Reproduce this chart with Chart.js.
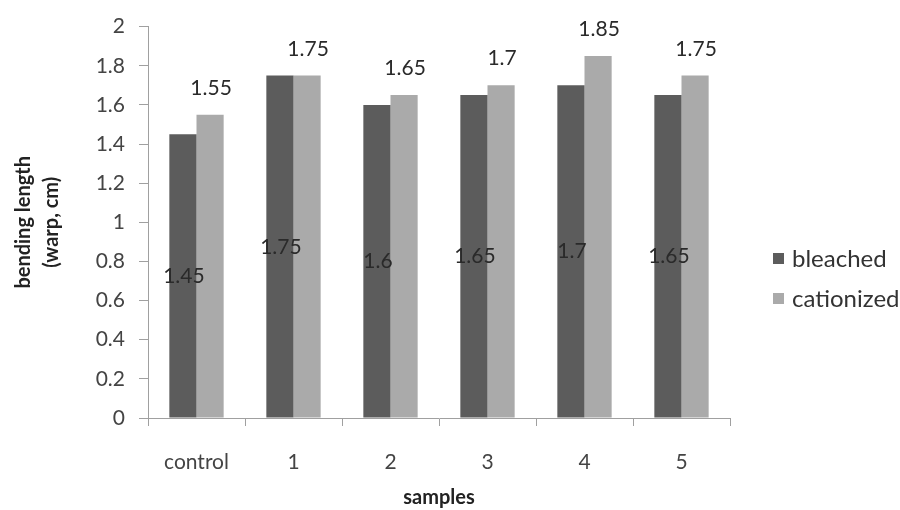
<!DOCTYPE html>
<html>
<head>
<meta charset="utf-8">
<script src="https://cdn.jsdelivr.net/npm/chart.js@4"></script>
<style>
  html, body { margin: 0; padding: 0; background: #fff; }
  #wrap { width: 900px; height: 510px; }
</style>
</head>
<body>
<div id="wrap"><canvas id="c" width="900" height="510"></canvas></div>
<script>
const categories = ['control', '1', '2', '3', '4', '5'];
const bleached = [1.45, 1.75, 1.6, 1.65, 1.7, 1.65];
const cationized = [1.55, 1.75, 1.65, 1.7, 1.85, 1.75];
const seriesNames = ['bleached', 'cationized'];
const seriesColors = ['#5c5c5c', '#aaaaaa'];

const FONT = 'Lato, "Open Sans", sans-serif';

// value labels: bleached centred in bar, cationized above bar
const valueLabels = {
  id: 'valueLabels',
  afterDatasetsDraw(chart) {
    const ctx = chart.ctx;
    const yScale = chart.scales.y;
    ctx.save();
    ctx.font = '21px ' + FONT;
    ctx.fillStyle = '#2a2a2a';
    ctx.textAlign = 'center';
    chart.data.datasets.forEach((ds, i) => {
      const meta = chart.getDatasetMeta(i);
      meta.data.forEach((bar, j) => {
        const v = ds.data[j];
        if (i === 0) {
          ctx.textBaseline = 'middle';
          ctx.fillText(String(v), bar.x + 1, yScale.getPixelForValue(v / 2));
        } else {
          ctx.textBaseline = 'alphabetic';
          ctx.fillText(String(v), bar.x + 1, bar.y - 20);
        }
      });
    });
    ctx.restore();
  }
};

// legend drawn on the right, allowed to run off the edge like the source
const sideLegend = {
  id: 'sideLegend',
  afterDraw(chart) {
    const ctx = chart.ctx;
    ctx.save();
    ctx.font = '24px ' + FONT;
    ctx.textBaseline = 'middle';
    ctx.textAlign = 'left';
    const ys = [259, 299];
    seriesNames.forEach((n, i) => {
      ctx.fillStyle = seriesColors[i];
      ctx.fillRect(773, ys[i] - 6, 11, 11);
      ctx.fillStyle = '#333';
      ctx.fillText(n, 792, ys[i]);
    });
    ctx.restore();
  }
};

new Chart(document.getElementById('c'), {
  type: 'bar',
  data: {
    labels: categories,
    datasets: [
      { label: seriesNames[0], data: bleached, backgroundColor: seriesColors[0] },
      { label: seriesNames[1], data: cationized, backgroundColor: seriesColors[1] },
    ],
  },
  options: {
    responsive: false,
    animation: false,
    devicePixelRatio: 1,
    layout: { padding: { top: 25, right: 170, left: 10 } },
    datasets: { bar: { categoryPercentage: 0.56, barPercentage: 1.0 } },
    plugins: {
      legend: { display: false },
      tooltip: { enabled: false },
    },
    scales: {
      x: {
        grid: { display: true, drawOnChartArea: false, tickLength: 8, color: '#a0a0a0' },
        border: { color: '#a0a0a0' },
        ticks: { color: '#444', font: { size: 21, family: FONT }, padding: 24 },
        title: { display: true, text: 'samples', color: '#222', font: { size: 20, weight: 'bold', family: FONT }, padding: { top: 12, bottom: 0 } },
        afterFit: s => { s.height = 92; },
      },
      y: {
        min: 0,
        max: 2,
        ticks: {
          stepSize: 0.2,
          color: '#444',
          font: { size: 21, family: FONT },
          padding: 14,
          callback: v => String(Math.round(v * 10) / 10),
        },
        grid: { display: true, drawOnChartArea: false, tickLength: 9, color: '#a0a0a0' },
        border: { color: '#a0a0a0' },
        title: {
          display: true,
          text: ['bending length', '(warp, cm)'],
          color: '#222',
          font: { size: 20, weight: 'bold', family: FONT, lineHeight: 1.4 },
          padding: 0,
        },
        afterFit: s => { s.width = 138; },
      },
    },
  },
  plugins: [valueLabels, sideLegend],
});
</script>
</body>
</html>
